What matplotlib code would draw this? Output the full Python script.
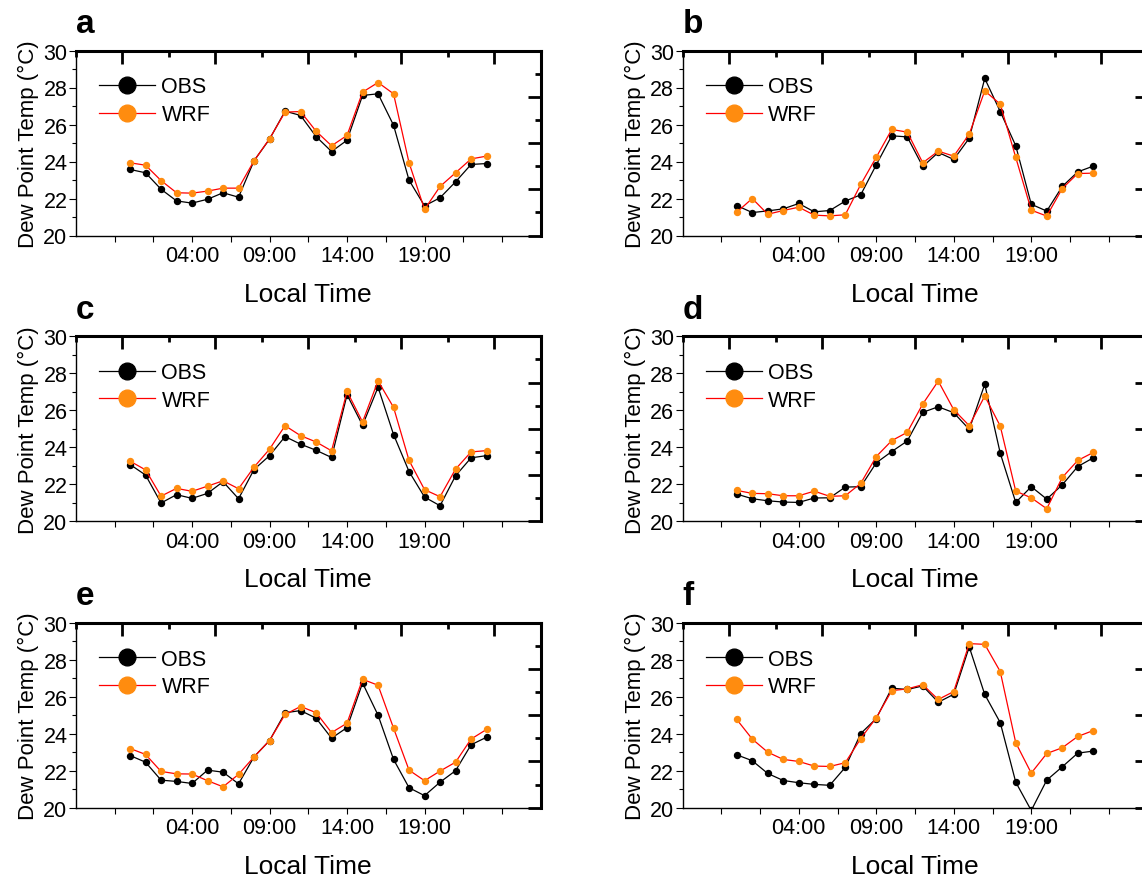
import numpy as np
import matplotlib
matplotlib.use("Agg")
import matplotlib.pyplot as plt
from matplotlib.ticker import MultipleLocator

plt.rcParams['font.family'] = ['Liberation Sans', 'DejaVu Sans']

hours = np.arange(24)
tick_pos = [4, 9, 14, 19]
tick_labels = ['04:00', '09:00', '14:00', '19:00']
panel_names = ['a', 'b', 'c', 'd', 'e', 'f']

# unlabeled scales drawn on the top and right edges (axes fractions)
top_major = [0.1, 0.3, 0.5, 0.7, 0.9]
top_minor = [0.0, 0.2, 0.4, 0.6, 0.8, 1.0]
right_major = [0.0, 0.25, 0.5, 0.75, 1.0]
right_minor = [0.125, 0.375, 0.625, 0.875]

obs_a = [23.57, 23.39, 22.50, 21.87, 21.75, 21.96, 22.31, 22.07, 24.04, 25.21, 26.72, 26.49,
         25.35, 24.54, 25.15, 27.57, 27.66, 25.96, 22.99, 21.60, 22.04, 22.90, 23.84, 23.89]
wrf_a = [23.93, 23.80, 22.97, 22.31, 22.29, 22.40, 22.56, 22.56, 24.04, 25.23, 26.67, 26.70,
         25.64, 24.85, 25.41, 27.75, 28.27, 27.66, 23.93, 21.41, 22.65, 23.39, 24.14, 24.29]

obs_b = [21.62, 21.24, 21.33, 21.44, 21.73, 21.28, 21.35, 21.86, 22.20, 23.82, 25.39, 25.33,
         23.73, 24.49, 24.11, 25.26, 28.49, 26.70, 24.85, 21.69, 21.32, 22.65, 23.44, 23.75]
wrf_b = [21.26, 22.00, 21.15, 21.35, 21.53, 21.10, 21.06, 21.12, 22.76, 24.23, 25.73, 25.59,
         23.93, 24.56, 24.29, 25.48, 27.82, 27.10, 24.22, 21.37, 21.05, 22.54, 23.35, 23.37]

obs_c = [23.07, 22.50, 20.99, 21.44, 21.24, 21.51, 22.14, 21.22, 22.80, 23.55, 24.58, 24.17,
         23.84, 23.45, 26.84, 25.19, 27.25, 24.69, 22.69, 21.31, 20.84, 22.46, 23.43, 23.55]
wrf_c = [23.25, 22.78, 21.36, 21.78, 21.62, 21.90, 22.19, 21.76, 22.93, 23.90, 25.17, 24.63,
         24.29, 23.81, 27.02, 25.37, 27.59, 26.16, 23.29, 21.71, 21.33, 22.82, 23.75, 23.82]

obs_d = [21.47, 21.22, 21.11, 21.04, 21.02, 21.26, 21.27, 21.85, 21.87, 23.16, 23.77, 24.34,
         25.89, 26.19, 25.87, 24.97, 27.41, 23.68, 21.02, 21.87, 21.20, 21.97, 22.96, 23.43]
wrf_d = [21.67, 21.51, 21.49, 21.38, 21.38, 21.63, 21.35, 21.38, 22.05, 23.50, 24.36, 24.81,
         26.34, 27.58, 26.03, 25.17, 26.77, 25.15, 21.63, 21.27, 20.68, 22.37, 23.29, 23.72]

obs_e = [22.82, 22.46, 21.49, 21.42, 21.31, 22.03, 21.92, 21.29, 22.75, 23.63, 25.13, 25.25,
         24.84, 23.76, 24.33, 26.74, 25.00, 22.61, 21.08, 20.65, 21.38, 22.00, 23.40, 23.81]
wrf_e = [23.20, 22.88, 21.96, 21.83, 21.82, 21.46, 21.13, 21.80, 22.75, 23.63, 25.04, 25.47,
         25.14, 24.06, 24.57, 26.94, 26.62, 24.30, 22.03, 21.46, 21.98, 22.46, 23.71, 24.23]

obs_f = [22.86, 22.54, 21.85, 21.47, 21.35, 21.26, 21.21, 22.18, 24.01, 24.82, 26.46, 26.39,
         26.58, 25.70, 26.13, 28.69, 26.12, 24.60, 21.38, 19.85, 21.49, 22.21, 22.95, 23.06]
wrf_f = [24.77, 23.71, 23.00, 22.61, 22.50, 22.25, 22.23, 22.43, 23.74, 24.86, 26.33, 26.42,
         26.65, 25.85, 26.28, 28.87, 28.83, 27.36, 23.51, 21.87, 22.93, 23.24, 23.85, 24.17]

obs_all = [obs_a, obs_b, obs_c, obs_d, obs_e, obs_f]
wrf_all = [wrf_a, wrf_b, wrf_c, wrf_d, wrf_e, wrf_f]

W, H = 1142, 879
fig = plt.figure(figsize=(W / 100, H / 100), dpi=100)

lefts = [75.8, 682.5]
bottoms = [236.5, 522.3, 808.7]
aw, ah = 465, 185


def edge_ticks(ax, fracs, side, size):
    # tick-like marks along the top or right edge, pointing inward
    fracs = np.asarray(fracs, dtype=float)
    if side == 'top':
        ax.plot(fracs, np.ones_like(fracs), transform=ax.transAxes, ls='none',
                marker=3, ms=size, mew=2.0, color='black', clip_on=False, zorder=6)
    else:
        ax.plot(np.ones_like(fracs), fracs, transform=ax.transAxes, ls='none',
                marker=0, ms=size, mew=2.0, color='black', clip_on=False, zorder=6)


for i in range(6):
    row, col = i // 2, i % 2
    ax = fig.add_axes([lefts[col] / W, (H - bottoms[row]) / H, aw / W, ah / H])

    ax.plot(hours, obs_all[i], color='black', lw=0.9, marker='o', ms=4.3,
            mfc='black', mec='black', label='OBS', zorder=3)
    ax.plot(hours, wrf_all[i], color='#ff0000', lw=0.9, marker='o', ms=4.3,
            mfc='#ff8c0f', mec='#ff8c0f', label='WRF', zorder=4)

    ax.set_xlim(-3.5, 26.5)
    ax.set_ylim(20, 30)

    xt = np.arange(-1, 26, 2.5)
    ax.set_xticks(xt)
    ax.set_xticklabels([tick_labels[tick_pos.index(int(v))] if v in tick_pos else '' for v in xt])
    ax.yaxis.set_major_locator(MultipleLocator(2))
    ax.yaxis.set_minor_locator(MultipleLocator(1))
    ax.tick_params(axis='both', which='both', direction='out', labelsize=15.5,
                   top=False, right=False, width=0.8)
    ax.tick_params(axis='x', which='major', length=4, pad=3)
    ax.tick_params(axis='y', which='major', length=5, pad=1)
    ax.tick_params(axis='y', which='minor', length=3)

    for s in ['left', 'bottom']:
        ax.spines[s].set_linewidth(1.0)
    for s in ['top', 'right']:
        ax.spines[s].set_linewidth(2.2)

    ax.set_xlabel('Local Time', fontsize=19, labelpad=11)
    ax.set_ylabel('Dew Point Temp (°C)', fontsize=16, labelpad=3)

    ax.legend(loc='upper left', bbox_to_anchor=(0.05, 0.86), frameon=False, fontsize=15.5,
              handlelength=2.6, handletextpad=0.3, labelspacing=0.31,
              borderpad=0, borderaxespad=0, markerscale=2.8)

    edge_ticks(ax, top_major, 'top', 9)
    edge_ticks(ax, top_minor, 'top', 4)
    edge_ticks(ax, right_major, 'right', 9.5)
    edge_ticks(ax, right_minor, 'right', 4.5)

    ax.text(0.0, 1.1, panel_names[i], transform=ax.transAxes, fontsize=24,
            fontweight='bold', ha='left', va='baseline')

fig.savefig('out.png', dpi=100)

# sanity check: a top tick of panel a should have left dark pixels below the top spine
img = plt.imread('out.png')
col_px = [round(float(img[y, 122, 0]), 2) for y in range(46, 70)]
if min(col_px[10:]) > 0.5:
    raise RuntimeError('top tick missing, column x=122: %s' % col_px)
